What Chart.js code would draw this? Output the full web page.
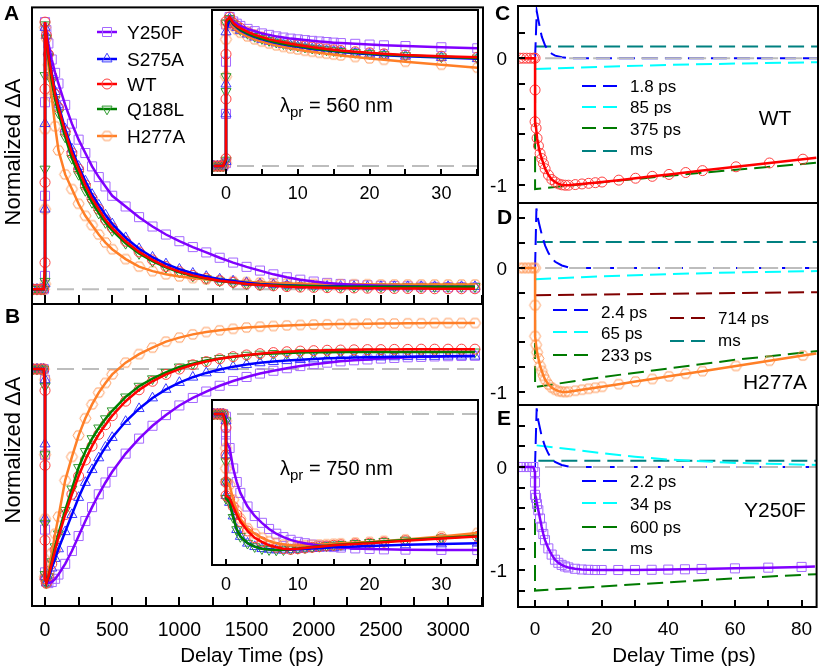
<!DOCTYPE html>
<html><head><meta charset="utf-8">
<script src="https://cdn.jsdelivr.net/npm/chart.js@4.4.1/dist/chart.umd.min.js"></script>
<style>
html,body{margin:0;padding:0;background:#fff;}
#wrap{position:relative;width:824px;height:668px;overflow:hidden;font-family:"Liberation Sans",Arial,sans-serif;color:#000;}
canvas{position:absolute;left:0;top:0;}
.t{position:absolute;white-space:nowrap;line-height:1;z-index:20;}
.b{font-weight:bold;font-size:21px;}
.c{transform:translateX(-50%);}
.rot{transform:translate(-50%,-50%) rotate(-90deg);font-size:22px;}
sub{font-size:15px;vertical-align:-5px;line-height:0;}
</style></head><body><div id="wrap">
<canvas id="cA" width="824" height="668"></canvas>
<canvas id="cB" width="824" height="668"></canvas>
<canvas id="cC" width="824" height="668"></canvas>
<canvas id="cD" width="824" height="668"></canvas>
<canvas id="cE" width="824" height="668"></canvas>
<canvas id="cIA" width="824" height="668"></canvas>
<canvas id="cIB" width="824" height="668"></canvas>

<div class="t b" style="left:4px;top:2px;">A</div>
<div class="t b" style="left:5px;top:305px;">B</div>
<div class="t b" style="left:495px;top:2px;">C</div>
<div class="t b" style="left:497px;top:206px;">D</div>
<div class="t b" style="left:497px;top:407px;">E</div>
<div class="t rot" style="left:13px;top:152px;">Normalized ΔA</div>
<div class="t rot" style="left:13px;top:450px;">Normalized ΔA</div>
<div class="t c" style="left:252px;top:645px;font-size:20.5px;">Delay Time (ps)</div>
<div class="t c" style="left:684px;top:645px;font-size:20.5px;">Delay Time (ps)</div>
<div class="t" style="left:280px;top:95px;font-size:20px;">λ<sub>pr</sub> = 560 nm</div>
<div class="t" style="left:280px;top:458px;font-size:20px;">λ<sub>pr</sub> = 750 nm</div>

<div class="t" style="left:127px;top:23px;font-size:19px;">Y250F</div>
<div class="t" style="left:127px;top:50px;font-size:19px;">S275A</div>
<div class="t" style="left:127px;top:75px;font-size:19px;">WT</div>
<div class="t" style="left:127px;top:100px;font-size:19px;">Q188L</div>
<div class="t" style="left:127px;top:127px;font-size:19px;">H277A</div>

<div class="t" style="left:630px;top:78px;font-size:17px;">1.8 ps</div>
<div class="t" style="left:630px;top:99px;font-size:17px;">85 ps</div>
<div class="t" style="left:630px;top:121px;font-size:17px;">375 ps</div>
<div class="t" style="left:630px;top:141px;font-size:17px;">ms</div>
<div class="t c" style="left:775px;top:107px;font-size:21px;">WT</div>

<div class="t" style="left:601px;top:304px;font-size:17px;">2.4 ps</div>
<div class="t" style="left:601px;top:325px;font-size:17px;">65 ps</div>
<div class="t" style="left:601px;top:347px;font-size:17px;">233 ps</div>
<div class="t" style="left:718px;top:310px;font-size:17px;">714 ps</div>
<div class="t" style="left:718px;top:332px;font-size:17px;">ms</div>
<div class="t c" style="left:775px;top:371px;font-size:21px;">H277A</div>

<div class="t" style="left:630px;top:473px;font-size:17px;">2.2 ps</div>
<div class="t" style="left:630px;top:496px;font-size:17px;">34 ps</div>
<div class="t" style="left:630px;top:519px;font-size:17px;">600 ps</div>
<div class="t" style="left:630px;top:540px;font-size:17px;">ms</div>
<div class="t c" style="left:775px;top:499px;font-size:21px;">Y250F</div>
</div>
<script>
// ================= DATA =================
const seriesNames = ['Y250F','S275A','WT','Q188L','H277A'];

// main panels A/B: delay time (ps)
const tMain = [-90,-60,-30,-10, 0,0,0,0, 10,25,50,75,100,150,200,250,300,350,400,450,500,
  600,700,800,900,1000,1100,1200,1300,1400,1500,1600,1700,1800,1900,2000,2100,2200,2300,2400,2500,2600,2700,2800,2900,3000,3100,3200];

// panel A (560 nm)
const aY250F = [0,0,0,0, 0.05,0.35,0.7,1.0, 0.97,0.92,0.86,0.81,0.77,0.69,0.62,0.56,0.51,0.46,0.42,0.385,0.35,
  0.31,0.27,0.235,0.205,0.18,0.158,0.138,0.118,0.1,0.084,0.07,0.056,0.045,0.036,0.029,0.024,0.02,0.017,0.015,0.013,0.012,0.011,0.01,0.009,0.008,0.008,0.007];
const aS275A = [0,0,0,0, 0.02,0.3,0.62,0.98, 0.95,0.89,0.81,0.74,0.69,0.6,0.525,0.46,0.405,0.355,0.315,0.278,0.245,
  0.193,0.152,0.12,0.095,0.075,0.06,0.048,0.038,0.031,0.025,0.02,0.017,0.015,0.013,0.012,0.011,0.011,0.01,0.01,0.01,0.01,0.01,0.01,0.01,0.01,0.01,0.01];
const aWT = [0,0,0,0, 0.1,0.4,0.75,1.0, 0.95,0.88,0.8,0.73,0.68,0.59,0.51,0.45,0.39,0.34,0.3,0.26,0.23,
  0.18,0.14,0.11,0.085,0.066,0.052,0.041,0.032,0.026,0.02,0.016,0.013,0.01,0.008,0.007,0.006,0.005,0.005,0.004,0.004,0.003,0.003,0.003,0.002,0.002,0.002,0.002];
const aQ188L = [0,0,0,0, 0.03,0.45,0.8,0.99, 0.94,0.87,0.78,0.71,0.66,0.57,0.49,0.43,0.37,0.325,0.285,0.25,0.22,
  0.172,0.134,0.105,0.082,0.064,0.05,0.04,0.031,0.025,0.02,0.017,0.015,0.013,0.012,0.011,0.01,0.01,0.01,0.01,0.01,0.01,0.01,0.01,0.01,0.01,0.01,0.01];
const aH277A = [0,0,0,0, 0.02,0.3,0.6,0.98, 0.94,0.84,0.72,0.61,0.52,0.43,0.375,0.32,0.275,0.24,0.205,0.175,0.15,
  0.113,0.085,0.068,0.056,0.048,0.042,0.037,0.033,0.03,0.027,0.025,0.023,0.022,0.021,0.02,0.02,0.019,0.019,0.019,0.018,0.018,0.018,0.018,0.018,0.018,0.018,0.018];

// panel B (750 nm)
const bY250F = [0,0,0,0, -0.05,-0.4,-0.75,-0.95, -0.99,-1.0,-0.995,-0.98,-0.96,-0.91,-0.85,-0.78,-0.71,-0.645,-0.585,-0.53,-0.48,
  -0.395,-0.325,-0.265,-0.215,-0.17,-0.135,-0.105,-0.078,-0.056,-0.037,-0.021,-0.008,0.004,0.014,0.023,0.03,0.036,0.041,0.045,0.049,0.052,0.055,0.057,0.059,0.06,0.061,0.062];
const bS275A = [0,0,0,0, -0.05,-0.35,-0.7,-0.97, -1.0,-0.98,-0.93,-0.885,-0.84,-0.76,-0.68,-0.6,-0.53,-0.47,-0.415,-0.365,-0.32,
  -0.245,-0.185,-0.135,-0.095,-0.063,-0.038,-0.018,-0.002,0.011,0.021,0.029,0.035,0.04,0.044,0.047,0.05,0.052,0.054,0.055,0.056,0.057,0.058,0.059,0.059,0.06,0.06,0.06];
const bWT = [0,0,0,0, -0.1,-0.45,-0.8,-0.98, -1.0,-0.97,-0.91,-0.845,-0.785,-0.68,-0.585,-0.5,-0.425,-0.36,-0.305,-0.26,-0.218,
  -0.15,-0.097,-0.057,-0.025,0.0,0.02,0.035,0.048,0.058,0.066,0.072,0.077,0.081,0.084,0.086,0.088,0.089,0.09,0.091,0.091,0.092,0.092,0.093,0.093,0.093,0.093,0.093];
const bQ188L = [0,0,0,0, -0.08,-0.4,-0.72,-0.96, -1.0,-0.97,-0.9,-0.83,-0.77,-0.66,-0.56,-0.46,-0.385,-0.325,-0.275,-0.232,-0.195,
  -0.13,-0.08,-0.045,-0.015,0.01,0.025,0.04,0.05,0.058,0.065,0.07,0.073,0.075,0.077,0.078,0.079,0.08,0.08,0.08,0.08,0.08,0.08,0.08,0.08,0.08,0.08,0.08];
const bH277A = [0,0,0,0, -0.05,-0.4,-0.7,-0.97, -1.0,-0.95,-0.86,-0.77,-0.69,-0.52,-0.41,-0.31,-0.23,-0.165,-0.11,-0.065,-0.025,
  0.03,0.07,0.1,0.128,0.147,0.162,0.173,0.181,0.188,0.194,0.198,0.201,0.204,0.206,0.208,0.209,0.21,0.211,0.212,0.213,0.213,0.214,0.214,0.215,0.215,0.215,0.215];

// insets: delay time (ps)
const tInset = [-1.7,-1.2,-0.8,-0.4, 0,0,0,0, 0.5,1,1.5,2,3,4,5,6,7,8,9,10,11,12,13,14,15,16,18,20,22,25,30,35];
const iaY250F = [0,0,0,0, 0.02,0.35,0.7,0.95, 1.0,0.97,0.955,0.94,0.92,0.905,0.89,0.88,0.87,0.862,0.855,0.85,0.845,0.84,0.836,0.832,0.828,0.825,0.82,0.815,0.81,0.805,0.797,0.79];
const iaS275A = [0,0,0,0, 0.03,0.35,0.55,0.9, 0.99,0.95,0.93,0.91,0.885,0.865,0.85,0.837,0.826,0.816,0.807,0.8,0.793,0.786,0.78,0.775,0.77,0.765,0.757,0.75,0.743,0.737,0.728,0.72];
const iaWT = [0,0,0,0, 0.05,0.45,0.75,0.97, 1.0,0.96,0.94,0.925,0.9,0.88,0.865,0.85,0.84,0.83,0.82,0.812,0.805,0.798,0.792,0.786,0.78,0.775,0.767,0.76,0.753,0.745,0.737,0.73];
const iaQ188L = [0,0,0,0, 0.04,0.5,0.6,0.96, 0.99,0.955,0.935,0.915,0.89,0.87,0.855,0.842,0.831,0.821,0.812,0.805,0.798,0.791,0.785,0.779,0.774,0.769,0.762,0.755,0.748,0.741,0.733,0.725];
const iaH277A = [0,0,0,0, 0.02,0.6,0.85,0.95, 0.98,0.94,0.915,0.895,0.87,0.85,0.835,0.822,0.81,0.8,0.79,0.782,0.774,0.767,0.76,0.754,0.748,0.742,0.732,0.722,0.713,0.7,0.68,0.66];
const ibY250F = [0,0,0,0, -0.02,-0.1,-0.15,-0.2, -0.25,-0.4,-0.5,-0.58,-0.68,-0.75,-0.8,-0.845,-0.88,-0.905,-0.925,-0.94,-0.95,-0.96,-0.967,-0.973,-0.978,-0.982,-0.988,-0.992,-0.995,-0.997,-0.999,-1.0];
const ibS275A = [0,0,0,0, -0.05,-0.3,-0.5,-0.6, -0.65,-0.75,-0.85,-0.9,-0.95,-0.975,-0.99,-0.995,-1.0,-1.0,-0.998,-0.995,-0.992,-0.989,-0.986,-0.983,-0.98,-0.978,-0.974,-0.97,-0.967,-0.962,-0.955,-0.95];
const ibWT = [0,0,0,0, -0.1,-0.3,-0.5,-0.6, -0.62,-0.68,-0.74,-0.79,-0.86,-0.91,-0.94,-0.965,-0.98,-0.99,-0.995,-0.99,-0.985,-0.98,-0.975,-0.97,-0.965,-0.962,-0.955,-0.95,-0.942,-0.932,-0.915,-0.9];
const ibQ188L = [0,0,0,0, -0.05,-0.35,-0.5,-0.62, -0.65,-0.76,-0.85,-0.9,-0.95,-0.975,-0.99,-0.997,-1.0,-0.998,-0.993,-0.988,-0.983,-0.978,-0.973,-0.968,-0.963,-0.959,-0.951,-0.944,-0.937,-0.927,-0.911,-0.895];
const ibH277A = [0,0,0,0, -0.05,-0.25,-0.4,-0.5, -0.52,-0.63,-0.71,-0.77,-0.84,-0.88,-0.91,-0.935,-0.95,-0.96,-0.965,-0.967,-0.966,-0.963,-0.96,-0.957,-0.954,-0.951,-0.945,-0.94,-0.933,-0.922,-0.9,-0.875];

// right panels C/D/E: delay time (ps)
const tRight = [-4.5,-3.5,-2.5,-1.5,-0.5, 0,0,0, 0.3,0.6,1,1.5,2,2.5,3,4,5,6,7,8,9,10,12,14,16,18,20,25,30,35,40,45,50,60,70,80,84];
const cWT = [0,0,0,0,0, 0,-0.25,-0.5, -0.55,-0.63,-0.69,-0.75,-0.79,-0.83,-0.87,-0.92,-0.955,-0.975,-0.99,-0.997,-1.0,-1.0,-0.995,-0.99,-0.985,-0.98,-0.975,-0.96,-0.945,-0.93,-0.915,-0.9,-0.885,-0.855,-0.825,-0.795,-0.783];
const dH277A = [0,0,0,0,0, 0,-0.3,-0.55, -0.62,-0.68,-0.73,-0.79,-0.83,-0.87,-0.9,-0.94,-0.965,-0.982,-0.993,-0.998,-1.0,-0.998,-0.99,-0.982,-0.974,-0.966,-0.958,-0.937,-0.916,-0.895,-0.874,-0.853,-0.832,-0.79,-0.748,-0.706,-0.69];
const eY250F = [0,0,0,0,0, -0.05,-0.15,-0.27, -0.3,-0.36,-0.42,-0.5,-0.58,-0.65,-0.71,-0.79,-0.85,-0.9,-0.93,-0.95,-0.965,-0.975,-0.988,-0.995,-0.998,-1.0,-1.0,-1.0,-1.0,-0.998,-0.996,-0.993,-0.99,-0.984,-0.977,-0.97,-0.967];

// decay-associated components
const cFastT = [0,0.5,1,1.5,2,3,4,5,6,8,10,84.5];
const cFast  = [0,0.37,0.3,0.23,0.17,0.1,0.06,0.035,0.02,0.007,0,0];      // 1.8 ps
const cMidT = [0,20,40,60,84.5];
const cMid  = [-0.085,-0.067,-0.053,-0.042,-0.031];                        // 85 ps
const cSlowT = [-5.1,0,0,20,40,60,84.5];
const cSlow  = [0,0,-1.03,-0.977,-0.926,-0.878,-0.822];                    // 375 ps
const cMsT = [0,84.5];
const cMs  = [0.093,0.093];                                                 // ms

const dFastT = [0,0.4,1,2,3,4,5,6,8,10,12,84.5];
const dFast  = [0,0.48,0.38,0.27,0.18,0.12,0.08,0.05,0.02,0.005,0,0];      // 2.4 ps
const dMidT = [0,20,40,60,84.5];
const dMid  = [-0.09,-0.067,-0.049,-0.036,-0.025];                         // 65 ps
const dSlowT = [-5.1,0,0,20,40,60,84.5];
const dSlow  = [0,0,-0.96,-0.88,-0.81,-0.74,-0.67];                        // 233 ps
const dLongT = [0,40,84.5];
const dLong  = [-0.22,-0.208,-0.195];                                      // 714 ps
const dMsT = [0.5,84.5];
const dMs  = [0.21,0.21];                                                   // ms

const eFastT = [0,0.5,1,2,3,4,5,6,8,10,12,84.5];
const eFast  = [0,0.57,0.45,0.3,0.2,0.13,0.08,0.05,0.02,0.005,0,0];        // 2.2 ps
const eMidT = [0.5,10,20,30,40,60,84.5];
const eMid  = [0.21,0.175,0.135,0.1,0.072,0.04,0.02];                     // 34 ps
const eSlowT = [-5.1,0,0,20,40,60,84.5];
const eSlow  = [0,0,-1.2,-1.16,-1.12,-1.08,-1.04];                         // 600 ps
const eMsT = [1,84.5];
const eMs  = [0.06,0.06];                                                   // ms

// tick labels
const mainXLabels = [0,500,1000,1500,2000,2500,3000];
const insetXLabels = [0,10,20,30];
const rightXLabels = [0,20,40,60,80];
const rightYLabels = [0,-1];

// ================= STYLE =================
const COL = {
  Y250F:{line:'#8000ff', mark:'#a468ff', style:'rect'},
  S275A:{line:'#0000ff', mark:'#3c3cff', style:'triangle'},
  WT:{line:'#ff0000', mark:'#ff4040', style:'circle'},
  Q188L:{line:'#008000', mark:'#2e9a2e', style:'triangle', rot:180},
  H277A:{line:'#ff7f27', mark:'#ff9a5c', style:'hex'}
};
const GRAY = '#bdbdbd';
const FONT = '"Liberation Sans", Arial, sans-serif';

function hexCanvas(color, r){
  const s = Math.ceil(2*r+4), c = document.createElement('canvas');
  c.width = c.height = s;
  const g = c.getContext('2d');
  g.strokeStyle = color; g.lineWidth = 1;
  g.beginPath();
  for (let i=0;i<6;i++){ const a=Math.PI/3*i; const x=s/2+r*Math.cos(a), y=s/2+r*Math.sin(a)*0.95; i?g.lineTo(x,y):g.moveTo(x,y); }
  g.closePath(); g.stroke();
  return c;
}
const HEX = hexCanvas(COL.H277A.mark, 5.5);

const mk = (xs, ys) => xs.map((x,i)=>({x:x, y:ys[i]}));
function lineDS(xs, ys, color, width, dash){
  return {data: mk(xs,ys), borderColor: color, borderWidth: width, borderDash: dash||[], pointRadius: 0, tension: 0, fill: false, showLine: true};
}
function markDS(xs, ys, name){
  const c = COL[name];
  const st = c.style === 'hex' ? HEX : c.style;
  const rad = c.style === 'rect' ? 6.4 : (c.style === 'triangle' ? 5.8 : 5);
  return {data: mk(xs,ys), showLine: false, borderColor: c.mark, pointStyle: st, pointRadius: rad,
    pointBorderWidth: 1, pointBorderColor: c.mark, pointBackgroundColor: 'rgba(0,0,0,0)', pointRotation: c.rot||0};
}
function range(a,b,s){ const r=[]; for(let v=a; v<=b+1e-9; v+=s) r.push(+v.toFixed(6)); return r; }

function drawMarker(ctx, name, x, y){
  const c = COL[name];
  ctx.save(); ctx.strokeStyle = c.mark; ctx.lineWidth = 1; ctx.beginPath();
  if (c.style === 'rect') { ctx.rect(x-4.5, y-4.5, 9, 9); }
  else if (c.style === 'circle') { ctx.arc(x, y, 5, 0, Math.PI*2); }
  else if (c.style === 'triangle') {
    const R = 5.8, s = c.rot ? -1 : 1;
    ctx.moveTo(x, y - s*R); ctx.lineTo(x + R*0.866, y + s*R*0.5); ctx.lineTo(x - R*0.866, y + s*R*0.5); ctx.closePath();
  } else { ctx.drawImage(HEX, x-HEX.width/2, y-HEX.height/2); ctx.restore(); return; }
  ctx.stroke(); ctx.restore();
}

function framePlugin(cfg){
  return {
    id: 'frame',
    beforeDraw(chart){
      if (!cfg.bg) return;
      const a = chart.chartArea, ctx = chart.ctx;
      ctx.save(); ctx.fillStyle = '#fff'; ctx.fillRect(a.left, a.top, a.right-a.left, a.bottom-a.top); ctx.restore();
    },
    afterDraw(chart){
      const ctx = chart.ctx, a = chart.chartArea, x = chart.scales.x, y = chart.scales.y;
      ctx.save();
      ctx.strokeStyle = '#000'; ctx.lineWidth = 2;
      ctx.beginPath();
      (cfg.xTicks||[]).forEach(v => { const px = Math.round(x.getPixelForValue(v)); ctx.moveTo(px, a.bottom); ctx.lineTo(px, a.bottom - cfg.tl); });
      (cfg.yTicks||[]).forEach(v => { const py = Math.round(y.getPixelForValue(v)); ctx.moveTo(a.left, py); ctx.lineTo(a.left + cfg.tl, py); });
      ctx.stroke();
      ctx.strokeRect(a.left, a.top, a.right-a.left, a.bottom-a.top);
      ctx.fillStyle = '#000';
      const fs = cfg.fs || 19;
      ctx.font = fs + 'px ' + FONT;
      ctx.textBaseline = 'alphabetic';
      ctx.textAlign = 'center';
      (cfg.xLabels||[]).forEach(v => ctx.fillText(String(v), x.getPixelForValue(v), a.bottom + cfg.xOff + 0.358*fs));
      ctx.textAlign = 'right';
      (cfg.yLabels||[]).forEach(v => ctx.fillText(String(v), a.left - cfg.yOff, y.getPixelForValue(v) + 0.358*fs));
      if (cfg.legend) cfg.legend(ctx);
      ctx.restore();
    }
  };
}

function makeChart(id, box, xr, yr, datasets, cfg){
  return new Chart(document.getElementById(id), {
    type: 'line',
    data: {datasets: datasets},
    options: {
      responsive: false, animation: false, events: [],
      layout: {padding: {left: box.l, top: box.t, right: 824 - box.r, bottom: 668 - box.b}},
      plugins: {legend: {display: false}, tooltip: {enabled: false}},
      scales: {
        x: {type: 'linear', min: xr[0], max: xr[1], display: false},
        y: {type: 'linear', min: yr[0], max: yr[1], display: false}
      }
    },
    plugins: [framePlugin(cfg)]
  });
}

// series sets for the 4 multi-series plots (top-most first)
function multiSets(t, vals, xr){
  const order = ['WT','Q188L','S275A','Y250F','H277A'];
  const ds = [];
  order.forEach(n => ds.push(lineDS(t, vals[n], COL[n].line, 2.5)));
  ['WT','Q188L','S275A','H277A','Y250F'].forEach(n => ds.push(markDS(t, vals[n], n)));
  ds.push(lineDS(xr, [0,0], GRAY, 2, [17,8]));
  return ds;
}

const mainX = [-97, 3260];
const insetX = [-1.95, 35.1];
const rightX = [-5.1, 84.5];

// Panel A
makeChart('cA', {l:32,t:3,r:483,b:304}, mainX, [-0.055, 1.055],
  multiSets(tMain, {Y250F:aY250F,S275A:aS275A,WT:aWT,Q188L:aQ188L,H277A:aH277A}, mainX),
  {xTicks: range(0,3250,250), tl: 9, legend: (ctx) => {
    const ys = [32,59,84,109,136];
    seriesNames.forEach((n,i) => {
      ctx.save(); ctx.strokeStyle = COL[n].line; ctx.lineWidth = 2.5; ctx.setLineDash([]);
      ctx.beginPath(); ctx.moveTo(97, ys[i]); ctx.lineTo(117, ys[i]); ctx.stroke(); ctx.restore();
      drawMarker(ctx, n, 107, ys[i]);
    });
  }});

// Panel B
makeChart('cB', {l:32,t:304,r:483,b:606}, mainX, [-1.107, 0.304],
  multiSets(tMain, {Y250F:bY250F,S275A:bS275A,WT:bWT,Q188L:bQ188L,H277A:bH277A}, mainX),
  {xTicks: range(0,3250,250), tl: 9, xLabels: mainXLabels, xOff: 23, fs: 19.5});

// Inset A
makeChart('cIA', {l:212,t:10,r:478,b:175}, insetX, [-0.06, 1.047],
  multiSets(tInset, {Y250F:iaY250F,S275A:iaS275A,WT:iaWT,Q188L:iaQ188L,H277A:iaH277A}, insetX),
  {bg: true, xTicks: range(0,35,5), tl: 6, xLabels: insetXLabels, xOff: 17.5, fs: 18});

// Inset B
makeChart('cIB', {l:212,t:400,r:478,b:565}, insetX, [-1.11, 0.103],
  multiSets(tInset, {Y250F:ibY250F,S275A:ibS275A,WT:ibWT,Q188L:ibQ188L,H277A:ibH277A}, insetX),
  {bg: true, xTicks: range(0,35,5), tl: 6, xLabels: insetXLabels, xOff: 19, fs: 18});

// right panels
const CB = '#0000ff', CC = '#00ffff', CG = '#007a00', CT = '#008080', CR = '#800000';
const DASH = [16,7];
function legendLines(items, x0, x1){
  return (ctx) => {
    items.forEach(it => {
      ctx.save(); ctx.strokeStyle = it[0]; ctx.lineWidth = 2; ctx.setLineDash([14,7]);
      ctx.beginPath(); ctx.moveTo(it[2]||x0, it[1]); ctx.lineTo(it[3]||x1, it[1]); ctx.stroke(); ctx.restore();
    });
  };
}
function rightSets(name, vals, comps){
  const ds = [lineDS(tRight, vals, COL[name].line, 2.5), markDS(tRight.slice(0, -1), vals.slice(0, -1), name)];
  ds.push(lineDS(comps.slowT, comps.slow, CG, 2, DASH));
  ds.push(lineDS([3, 84.5], [0,0], GRAY, 2, [17,7]));
  ds.push(lineDS(comps.fastT, comps.fast, CB, 2, DASH));
  ds.push(lineDS(comps.midT, comps.mid, CC, 2, DASH));
  ds.push(lineDS(comps.msT, comps.ms, CT, 2, DASH));
  if (comps.longT) ds.push(lineDS(comps.longT, comps.long, CR, 2, DASH));
  return ds;
}

makeChart('cC', {l:518,t:3,r:819,b:203}, rightX, [-1.14, 0.411],
  rightSets('WT', cWT, {fastT:cFastT,fast:cFast,midT:cMidT,mid:cMid,slowT:cSlowT,slow:cSlow,msT:cMsT,ms:cMs}),
  {yTicks: range(-1,0.2,0.2), tl: 7, yLabels: rightYLabels, yOff: 11, fs: 19,
   legend: legendLines([[CB,86],[CC,107],[CG,128],[CT,151]], 582, 618)});

makeChart('cD', {l:518,t:203,r:819,b:405}, rightX, [-1.105, 0.524],
  rightSets('H277A', dH277A, {fastT:dFastT,fast:dFast,midT:dMidT,mid:dMid,slowT:dSlowT,slow:dSlow,msT:dMsT,ms:dMs,longT:dLongT,long:dLong}),
  {yTicks: range(-1,0.4,0.2), tl: 7, yLabels: rightYLabels, yOff: 11, fs: 19,
   legend: legendLines([[CB,310,553,588],[CC,332,553,588],[CG,355,553,588],[CR,318,670,707],[CT,341,670,707]], 553, 588)});

makeChart('cE', {l:518,t:405,r:819,b:607}, rightX, [-1.359, 0.602],
  rightSets('Y250F', eY250F, {fastT:eFastT,fast:eFast,midT:eMidT,mid:eMid,slowT:eSlowT,slow:eSlow,msT:eMsT,ms:eMs}),
  {yTicks: range(-1.2,0.4,0.2), tl: 7, yLabels: rightYLabels, yOff: 11, fs: 19,
   xTicks: range(0,80,10), xLabels: rightXLabels, xOff: 21.5,
   legend: legendLines([[CB,481],[CC,503],[CG,527],[CT,550]], 582, 618)});
</script>
</body></html>
